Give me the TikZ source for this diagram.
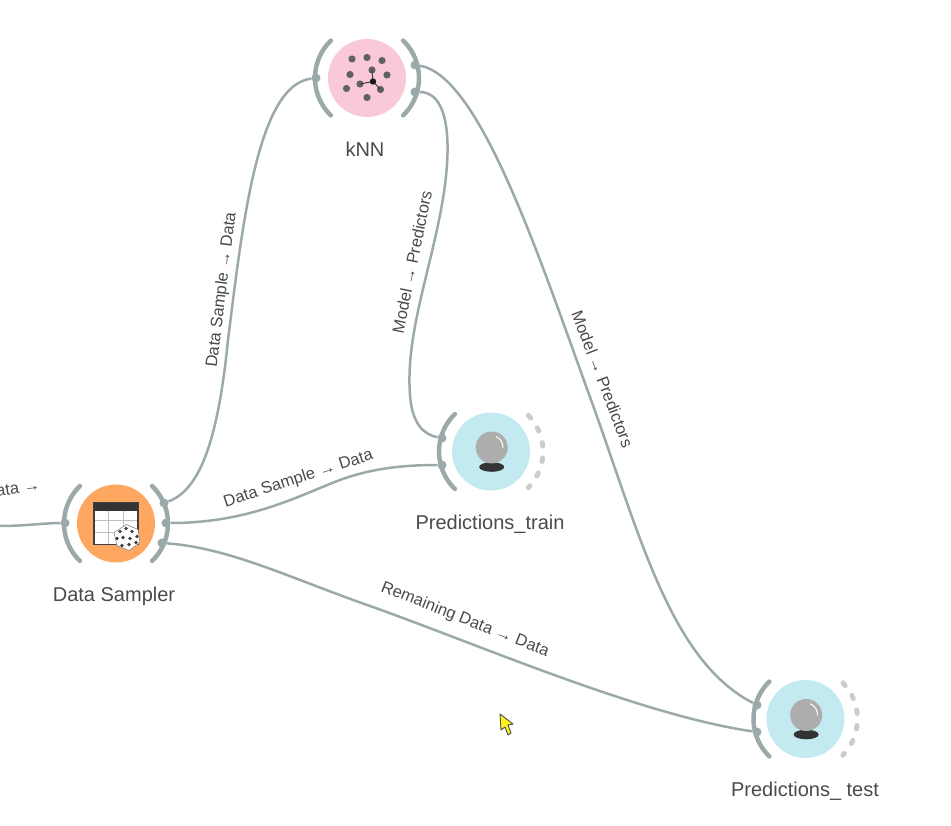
\documentclass[tikz,border=0pt]{standalone}
\usepackage{fontspec}
\setmainfont{Liberation Sans}
\definecolor{wirecol}{HTML}{9CA9AB}
\definecolor{textcol}{HTML}{4A4A4A}
\definecolor{knnpink}{HTML}{FAC9D8}
\definecolor{samplerorange}{HTML}{FDA761}
\definecolor{predcyan}{HTML}{C2EAF0}
\tikzset{
    widget/.style={circle, minimum size=78pt, inner sep=0pt},
    bracket/.style={wirecol, line width=4.5pt, line cap=round},
    port/.style={circle, fill=wirecol, minimum size=9pt, inner sep=0pt},
    wire/.style={wirecol, line width=2.5pt},
    title/.style={text=textcol, font=\fontsize{20}{22}\selectfont},
    linklabel/.style={text=textcol, font=\fontsize{16.5}{18}\selectfont, inner sep=0pt},
}
\begin{document}
\begin{tikzpicture}[x=1pt, y=-1pt]
    \useasboundingbox (0, 0) rectangle (951, 826);

    % widgets
    \node[widget, fill=knnpink] (knn) at (367, 78) {};
    \node[widget, fill=samplerorange] (sampler) at (116, 523.5) {};
    \node[widget, fill=predcyan] (predtrain) at (491, 451.5) {};
    \node[widget, fill=predcyan] (predtest) at (805.5, 719) {};

    \node[title] (knnname) at (365, 149) {kNN};
    \node[title] (samplername) at (114, 596.5) {Data Sampler};
    \node[title] (trainname) at (490, 524.5) {Predictions\_train};
    \node[title] (testname) at (805, 791.5) {Predictions\_ test};

    % left and right brackets
    \foreach \n in {knn, sampler, predtrain, predtest} {
        \draw[bracket] (\n.center) ++(134:52pt) arc[start angle=134, end angle=226, radius=52pt];
    }
    \foreach \n in {knn, sampler} {
        \draw[bracket] (\n.center) ++(46:52pt) arc[start angle=46, end angle=-46, radius=52pt];
    }
    \foreach \n in {predtrain, predtest} {
        \draw[black!20, line width=5pt, line cap=round, dash pattern=on 3.5pt off 12pt]
            (\n.center) ++(44:52pt) arc[start angle=44, end angle=-44, radius=52pt];
    }

    % ports
    \node[port] (knnin) at (316, 78) {};
    \node[port] (knnouta) at (415, 65) {};
    \node[port] (knnoutb) at (415, 92) {};
    \node[port] (samplerin) at (65, 523) {};
    \node[port] (sampleroutb) at (166, 523) {};
    \node[port] (sampleroutc) at (162, 543) {};
    \node[port] (sampleroutd) at (164, 503) {};
    \node[port] (trainina) at (442, 438) {};
    \node[port] (traininb) at (442, 465) {};
    \node[port] (testina) at (757, 705) {};
    \node[port] (testinb) at (757, 732) {};
    \coordinate (leftend) at (0, 526);

    % connections
    \draw[wire] (leftend) .. controls (25, 526) and (45, 523) .. (samplerin);
    \draw[wire] (sampleroutd) .. controls (200, 490) and (218, 440) .. (228, 340)
        .. controls (243, 220) and (258, 85) .. (knnin);
    \draw[wire] (sampleroutb) .. controls (250, 523) and (300, 495) .. (340, 480)
        .. controls (375, 467) and (410, 465) .. (traininb);
    \draw[wire] (sampleroutc) .. controls (230, 548) and (290, 578) .. (370, 606)
        .. controls (480, 645) and (640, 715) .. (testinb);
    \draw[wire] (knnoutb) .. controls (445, 92) and (452, 130) .. (445, 185)
        .. controls (435, 260) and (405, 330) .. (410, 395)
        .. controls (412, 425) and (425, 435) .. (trainina);
    \draw[wire] (knnouta) .. controls (480, 75) and (540, 260) .. (590, 397)
        .. controls (640, 535) and (670, 660) .. (testina);

    % connection labels
    \node[linklabel, rotate=83] (labela) at (222, 290) {Data Sample → Data};
    \node[linklabel, rotate=78.5] (labelb) at (412, 262) {Model → Predictors};
    \node[linklabel, rotate=-69] (labelc) at (602.5, 379) {Model → Predictors};
    \node[linklabel, rotate=18] (labeld) at (298.5, 479) {Data Sample → Data};
    \node[linklabel, rotate=-21.5] (labele) at (465, 620) {Remaining Data → Data};
    \node[linklabel, rotate=8, anchor=east] (labelf) at (40, 485) {ata →};

    % kNN icon
    \begin{scope}[shift={(knn.center)}]
        \foreach \dx/\dy in {-15/-19, 0/-20.5, 15/-17.5, -17/-3.5, 20/-3, 5/-8, -7/6, -20.5/10.5, 13.5/11.5, 0/19.5} {
            \fill[black!62] (\dx, \dy) circle[radius=3.6pt];
        }
        \draw[black!75, line width=1pt] (5, -8) -- (6, 3.5) -- (-7, 6) (6, 3.5) -- (13.5, 11.5);
        \fill[black!90] (6, 3.5) circle[radius=3.2pt];
    \end{scope}

    % data sampler icon
    \begin{scope}[shift={(sampler.center)}]
        \fill[white] (-22, -21) rectangle (22, 21);
        \draw[black!25, line width=0.8pt] (-7.5, -13) -- (-7.5, 21) (7.5, -13) -- (7.5, 21)
            (-22, -3) -- (22, -3) (-22, 9) -- (22, 9);
        \draw[black!75, line width=1.3pt] (-22, -21) rectangle (22, 21);
        \fill[black!80] (-22, -21) rectangle (22, -13);
        \fill[white] (10.5, 1) -- (22, 6) -- (24, 19) -- (13, 27) -- (1, 22) -- (-2, 9) -- cycle;
        \draw[black!45, line width=0.6pt] (10.5, 1) -- (22, 6) -- (24, 19) -- (13, 27) -- (1, 22) -- (-2, 9) -- cycle;
        \foreach \dx/\dy in {4/8, 10/5, 16/8, 1/15, 7/14, 14/15, 21/13, 6/22, 13/21, 20/19} {
            \fill[black!75] (\dx, \dy) circle[radius=1.9pt];
        }
    \end{scope}

    % crystal balls
    \foreach \n in {predtrain, predtest} {
        \begin{scope}[shift={(\n.center)}]
            \fill[black!80] (0.7, 15.5) ellipse[x radius=12.5pt, y radius=4.8pt];
            \fill[black!32] (0.7, -4) circle[radius=16pt];
            \draw[white, line width=1pt, line cap=round] (5, -15) .. controls (10, -13) and (12, -8) .. (12, -4);
        \end{scope}
    }

    % pointer
    \draw[black!70, fill=yellow!90!white, line width=0.9pt, line join=round]
        (500, 714) -- (501, 730) -- (505, 727) -- (508, 735) -- (511, 733) -- (508, 725) -- (513, 724) -- cycle;
\end{tikzpicture}
\end{document}
